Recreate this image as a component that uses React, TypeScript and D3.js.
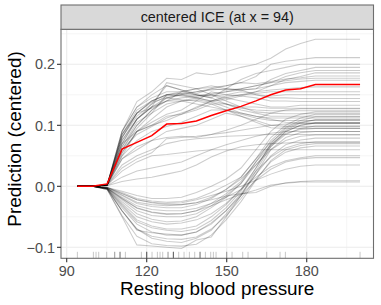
import React from "react";
import * as d3 from "d3";

const W = 381;
const H = 305;

// grid of the feature (Resting blood pressure)
const xGrid = [94, 99.58, 105.16, 110.74, 116.32, 121.89, 127.47, 133.05, 138.63, 144.21, 149.79, 155.37, 160.95, 166.53, 172.11, 177.68, 183.26, 188.84, 194.42, 200];

// average (red) curve
const pdpValues = [0, 0, 0.004, 0.061, 0.072, 0.083, 0.102, 0.103, 0.107, 0.116, 0.124, 0.131, 0.140, 0.150, 0.158, 0.160, 0.167, 0.167, 0.167, 0.167];

// ICE curves that rise early
const iceUpper = [
  [0, 0, 0.002, 0.09, 0.139, 0.155, 0.177, 0.175, 0.186, 0.183, 0.188, 0.195, 0.2, 0.21, 0.225, 0.234, 0.241, 0.241, 0.241, 0.241],
  [0, 0, 0.003, 0.08, 0.12, 0.14, 0.15, 0.152, 0.155, 0.16, 0.165, 0.17, 0.18, 0.2, 0.205, 0.208, 0.211, 0.211, 0.211, 0.211],
  [0, 0, 0.002, 0.07, 0.11, 0.135, 0.165, 0.158, 0.15, 0.145, 0.16, 0.175, 0.185, 0.19, 0.195, 0.2, 0.2, 0.2, 0.2, 0.2],
  [0, 0, 0.002, 0.085, 0.12, 0.128, 0.14, 0.155, 0.16, 0.165, 0.16, 0.158, 0.16, 0.175, 0.185, 0.19, 0.195, 0.195, 0.195, 0.195],
  [0, 0, 0.003, 0.06, 0.1, 0.125, 0.145, 0.15, 0.148, 0.152, 0.155, 0.16, 0.165, 0.17, 0.18, 0.186, 0.19, 0.19, 0.19, 0.19],
  [0, 0, 0.002, 0.055, 0.09, 0.105, 0.118, 0.125, 0.14, 0.155, 0.15, 0.148, 0.155, 0.165, 0.175, 0.18, 0.186, 0.186, 0.186, 0.186],
  [0, 0, 0.003, 0.065, 0.105, 0.12, 0.15, 0.155, 0.16, 0.162, 0.165, 0.17, 0.168, 0.172, 0.176, 0.178, 0.181, 0.181, 0.181, 0.181],
  [0, 0, 0.002, 0.09, 0.13, 0.15, 0.165, 0.158, 0.152, 0.16, 0.158, 0.16, 0.165, 0.17, 0.173, 0.176, 0.177, 0.177, 0.177, 0.177],
  [0, 0, 0.002, 0.05, 0.09, 0.11, 0.13, 0.14, 0.145, 0.15, 0.155, 0.158, 0.16, 0.165, 0.17, 0.172, 0.174, 0.174, 0.174, 0.174],
  [0, 0, 0.002, 0.07, 0.09, 0.1, 0.108, 0.118, 0.13, 0.14, 0.145, 0.15, 0.155, 0.158, 0.16, 0.162, 0.163, 0.163, 0.163, 0.163],
  [0, 0, 0.002, 0.08, 0.12, 0.14, 0.15, 0.152, 0.15, 0.148, 0.15, 0.155, 0.152, 0.155, 0.155, 0.155, 0.155, 0.155, 0.155, 0.155],
  [0, 0, 0.003, 0.06, 0.085, 0.098, 0.112, 0.12, 0.128, 0.14, 0.148, 0.15, 0.15, 0.148, 0.15, 0.15, 0.15, 0.15, 0.15, 0.15],
  [0, 0, 0.002, 0.075, 0.11, 0.13, 0.145, 0.15, 0.155, 0.158, 0.16, 0.158, 0.15, 0.145, 0.145, 0.144, 0.144, 0.144, 0.144, 0.144],
  [0, 0, 0.002, 0.085, 0.125, 0.14, 0.15, 0.148, 0.145, 0.14, 0.142, 0.148, 0.145, 0.14, 0.14, 0.139, 0.139, 0.139, 0.139, 0.139],
  [0, 0, 0.002, 0.07, 0.11, 0.13, 0.17, 0.165, 0.16, 0.15, 0.145, 0.14, 0.135, 0.13, 0.13, 0.133, 0.133, 0.133, 0.133, 0.133],
  [0, 0, 0.002, 0.08, 0.115, 0.135, 0.148, 0.15, 0.145, 0.14, 0.135, 0.13, 0.13, 0.128, 0.128, 0.128, 0.128, 0.128, 0.128, 0.128],
  [0, 0, 0.003, 0.055, 0.09, 0.1, 0.115, 0.118, 0.125, 0.135, 0.135, 0.128, 0.125, 0.124, 0.124, 0.124, 0.124, 0.124, 0.124, 0.124],
  [0, 0, 0.002, 0.065, 0.1, 0.125, 0.14, 0.145, 0.148, 0.15, 0.14, 0.13, 0.122, 0.12, 0.119, 0.119, 0.119, 0.119, 0.119, 0.119],
  [0, 0, 0.002, 0.09, 0.13, 0.145, 0.155, 0.155, 0.15, 0.145, 0.135, 0.125, 0.12, 0.115, 0.115, 0.115, 0.115, 0.115, 0.115, 0.115],
  [0, 0, 0.002, 0.06, 0.095, 0.12, 0.135, 0.14, 0.142, 0.138, 0.13, 0.12, 0.115, 0.112, 0.112, 0.112, 0.112, 0.112, 0.112, 0.112],
  [0, 0, 0.002, 0.075, 0.11, 0.13, 0.14, 0.14, 0.135, 0.13, 0.125, 0.118, 0.112, 0.108, 0.108, 0.108, 0.108, 0.108, 0.108, 0.108],
  [0, 0, 0.002, 0.05, 0.075, 0.09, 0.098, 0.105, 0.115, 0.125, 0.125, 0.12, 0.115, 0.11, 0.105, 0.104, 0.104, 0.104, 0.104, 0.104],
  [0, 0, 0.002, 0.045, 0.06, 0.075, 0.09, 0.095, 0.1, 0.11, 0.12, 0.115, 0.108, 0.1, 0.098, 0.098, 0.098, 0.098, 0.098, 0.098],
  [0, 0, 0.002, 0.085, 0.12, 0.138, 0.145, 0.142, 0.14, 0.135, 0.125, 0.115, 0.105, 0.096, 0.095, 0.095, 0.095, 0.095, 0.095, 0.095],
];

// ICE curves that rise gradually
const iceMiddle = [
  [0, 0, 0.002, 0.045, 0.065, 0.075, 0.08, 0.082, 0.08, 0.085, 0.092, 0.1, 0.11, 0.12, 0.125, 0.127, 0.127, 0.127, 0.127, 0.127],
  [0, 0, 0.002, 0.03, 0.045, 0.055, 0.078, 0.08, 0.082, 0.085, 0.088, 0.092, 0.096, 0.1, 0.102, 0.103, 0.103, 0.103, 0.103, 0.103],
  [0, 0, 0.001, 0.015, 0.025, 0.03, 0.035, 0.04, 0.05, 0.06, 0.068, 0.075, 0.082, 0.087, 0.09, 0.09, 0.09, 0.09, 0.09, 0.09],
  [0, 0, 0.002, 0.035, 0.05, 0.06, 0.07, 0.075, 0.078, 0.08, 0.082, 0.083, 0.084, 0.085, 0.085, 0.085, 0.085, 0.085, 0.085, 0.085],
  [0, 0, 0.001, 0.008, 0.012, 0.015, 0.02, 0.025, 0.035, 0.048, 0.058, 0.065, 0.068, 0.07, 0.071, 0.072, 0.072, 0.072, 0.072, 0.072],
  [0, 0, 0.002, 0.025, 0.04, 0.05, 0.052, 0.055, 0.058, 0.06, 0.06, 0.06, 0.06, 0.06, 0.06, 0.06, 0.06, 0.06, 0.06, 0.06],
];

// ICE curves that dip, then rise late
const iceLower = [
  [0, 0, -0.002, -0.008, -0.015, -0.02, -0.02, -0.018, -0.01, 0.0, 0.012, 0.03, 0.06, 0.09, 0.11, 0.118, 0.122, 0.122, 0.122, 0.122],
  [0, 0, -0.003, -0.015, -0.028, -0.033, -0.035, -0.035, -0.03, -0.02, -0.005, 0.015, 0.045, 0.08, 0.1, 0.112, 0.118, 0.118, 0.118, 0.118],
  [0, 0, -0.003, -0.022, -0.04, -0.048, -0.05, -0.05, -0.045, -0.032, -0.015, 0.005, 0.04, 0.075, 0.097, 0.108, 0.114, 0.114, 0.114, 0.114],
  [0, 0, -0.002, -0.01, -0.02, -0.024, -0.026, -0.025, -0.02, -0.01, 0.002, 0.015, 0.045, 0.072, 0.092, 0.104, 0.109, 0.109, 0.109, 0.109],
  [0, 0, -0.004, -0.03, -0.055, -0.065, -0.07, -0.07, -0.065, -0.05, -0.03, -0.005, 0.03, 0.07, 0.095, 0.105, 0.109, 0.109, 0.109, 0.109],
  [0, 0, -0.003, -0.02, -0.035, -0.042, -0.045, -0.045, -0.04, -0.028, -0.012, 0.008, 0.04, 0.068, 0.09, 0.1, 0.104, 0.104, 0.104, 0.104],
  [0, 0, -0.005, -0.04, -0.07, -0.085, -0.09, -0.092, -0.085, -0.072, -0.045, -0.015, 0.025, 0.065, 0.09, 0.1, 0.104, 0.104, 0.104, 0.104],
  [0, 0, -0.003, -0.025, -0.045, -0.054, -0.058, -0.057, -0.05, -0.035, -0.018, 0.005, 0.035, 0.065, 0.085, 0.095, 0.099, 0.099, 0.099, 0.099],
  [0, 0, -0.005, -0.05, -0.096, -0.098, -0.1, -0.102, -0.088, -0.083, -0.05, -0.015, 0.02, 0.06, 0.08, 0.088, 0.09, 0.09, 0.09, 0.09],
  [0, 0, -0.002, -0.012, -0.022, -0.027, -0.03, -0.03, -0.027, -0.018, -0.005, 0.012, 0.035, 0.06, 0.075, 0.082, 0.084, 0.084, 0.084, 0.084],
  [0, 0, -0.004, -0.035, -0.062, -0.075, -0.08, -0.08, -0.075, -0.06, -0.04, -0.012, 0.02, 0.05, 0.068, 0.076, 0.079, 0.079, 0.079, 0.079],
  [0, 0, -0.003, -0.028, -0.05, -0.058, -0.062, -0.06, -0.055, -0.045, -0.028, -0.005, 0.025, 0.048, 0.063, 0.07, 0.073, 0.073, 0.073, 0.073],
  [0, 0, -0.004, -0.04, -0.07, -0.082, -0.086, -0.087, -0.083, -0.07, -0.048, -0.02, 0.012, 0.04, 0.056, 0.063, 0.066, 0.066, 0.066, 0.066],
  [0, 0, -0.003, -0.018, -0.032, -0.038, -0.04, -0.04, -0.036, -0.028, -0.018, -0.005, 0.015, 0.032, 0.042, 0.047, 0.05, 0.05, 0.05, 0.05],
  [0, 0, -0.004, -0.04, -0.072, -0.076, -0.078, -0.08, -0.075, -0.062, -0.04, -0.015, 0.01, 0.028, 0.04, 0.045, 0.047, 0.047, 0.047, 0.047],
  [0, 0, -0.002, -0.012, -0.022, -0.026, -0.028, -0.027, -0.022, -0.015, -0.008, 0.0, 0.01, 0.02, 0.028, 0.033, 0.035, 0.035, 0.035, 0.035],
  [0, 0, -0.002, -0.014, -0.026, -0.03, -0.032, -0.03, -0.027, -0.022, -0.016, -0.012, -0.01, 0.0, 0.006, 0.008, 0.009, 0.009, 0.009, 0.009],
  [0, 0, -0.003, -0.02, -0.036, -0.043, -0.046, -0.045, -0.04, -0.032, -0.022, -0.013, -0.006, 0.002, 0.005, 0.007, 0.007, 0.007, 0.007, 0.007],
  [0, 0, -0.004, -0.032, -0.058, -0.068, -0.072, -0.074, -0.07, -0.056, -0.035, -0.008, 0.03, 0.068, 0.087, 0.093, 0.095, 0.095, 0.095, 0.095],
  [0, 0, -0.005, -0.048, -0.082, -0.094, -0.097, -0.098, -0.095, -0.08, -0.055, -0.025, 0.01, 0.042, 0.06, 0.067, 0.07, 0.07, 0.07, 0.07],
];

// observed feature values (rug)
const rugValues = [94, 100, 101, 102, 105, 108, 108, 110, 110, 110, 112, 118, 120, 120, 120, 120, 122, 124, 125, 126, 128, 128, 130, 130, 130, 130, 132, 134, 136, 138, 140, 140, 140, 142, 144, 145, 146, 150, 150, 152, 156, 158, 165, 170, 172, 180, 200];

const xMajor = [90, 120, 150, 180];
const xMinor = [105, 135, 165, 195];
const yMajor = [-0.1, 0, 0.1, 0.2];
const yMinor = [-0.05, 0.05, 0.15, 0.25];

const stripTitle = "centered ICE (at x = 94)";
const xTitle = "Resting blood pressure";
const yTitle = "Prediction (centered)";

const FONT = "'Liberation Sans', Arial, Helvetica, sans-serif";

export default function App() {
  const left = 61, right = 373.5, top = 29.3, bottom = 258.3, stripTop = 5;
  const x = d3.scaleLinear().domain([87.86, 205.04]).range([left, right]);
  const y = d3.scaleLinear().domain([-0.118, 0.2574]).range([bottom, top]);
  const line = d3.line<number>().x((_, i) => x(xGrid[i])).y((v) => y(v));
  const allIce = [...iceUpper, ...iceMiddle, ...iceLower];

  return (
    <svg width={W} height={H} style={{ position: "absolute", left: 0, top: 0 }} fontFamily={FONT}>
      <rect x={0} y={0} width={W} height={H} fill="#fff" />
      <rect x={left} y={top} width={right - left} height={bottom - top} fill="#fff" />
      {xMinor.map((v) => (
        <line key={"xm" + v} x1={x(v)} x2={x(v)} y1={top} y2={bottom} stroke="#ebebeb" strokeWidth={0.55} />
      ))}
      {yMinor.map((v) => (
        <line key={"ym" + v} x1={left} x2={right} y1={y(v)} y2={y(v)} stroke="#ebebeb" strokeWidth={0.55} />
      ))}
      {xMajor.map((v) => (
        <line key={"xM" + v} x1={x(v)} x2={x(v)} y1={top} y2={bottom} stroke="#ebebeb" strokeWidth={1.1} />
      ))}
      {yMajor.map((v) => (
        <line key={"yM" + v} x1={left} x2={right} y1={y(v)} y2={y(v)} stroke="#ebebeb" strokeWidth={1.1} />
      ))}
      {allIce.map((c, i) => (
        <path key={"ice" + i} d={line(c) || ""} fill="none" stroke="#000" strokeOpacity={0.2} strokeWidth={1.05} />
      ))}
      <path d={line(pdpValues) || ""} fill="none" stroke="#ff0000" strokeWidth={1.5} />
      {rugValues.map((v, i) => (
        <line key={"rug" + i} x1={x(v)} x2={x(v)} y1={bottom} y2={bottom - 6.5} stroke="#000" strokeOpacity={0.22} strokeWidth={1} />
      ))}
      <rect x={left} y={top} width={right - left} height={bottom - top} fill="none" stroke="#6e6e6e" strokeWidth={1.1} />
      {/* strip */}
      <rect x={left} y={stripTop} width={right - left} height={top - stripTop} fill="#d9d9d9" stroke="#6e6e6e" strokeWidth={1.1} />
      <text x={(left + right) / 2} y={(stripTop + top) / 2} dy="0.36em" textAnchor="middle" fontSize={14.4} fill="#1a1a1a">
        {stripTitle}
      </text>
      {/* x axis */}
      {xMajor.map((v) => (
        <g key={"xt" + v}>
          <line x1={x(v)} x2={x(v)} y1={bottom} y2={bottom + 4} stroke="#333" strokeWidth={1.1} />
          <text x={x(v)} y={bottom + 17.4} textAnchor="middle" fontSize={14.4} fill="#4d4d4d">
            {d3.format("d")(v)}
          </text>
        </g>
      ))}
      {/* y axis */}
      {yMajor.map((v) => (
        <g key={"yt" + v}>
          <line x1={left - 4} x2={left} y1={y(v)} y2={y(v)} stroke="#333" strokeWidth={1.1} />
          <text x={left - 6} y={y(v)} dy="0.36em" textAnchor="end" fontSize={14.4} fill="#4d4d4d">
            {d3.format(".1f")(v).replace("-", "\u2212")}
          </text>
        </g>
      ))}
      <text x={(left + right) / 2} y={295} textAnchor="middle" fontSize={18.9} fill="#000">
        {xTitle}
      </text>
      <text transform={`translate(20.5, 139) rotate(-90)`} textAnchor="middle" fontSize={18.9} fill="#000">
        {yTitle}
      </text>
    </svg>
  );
}
